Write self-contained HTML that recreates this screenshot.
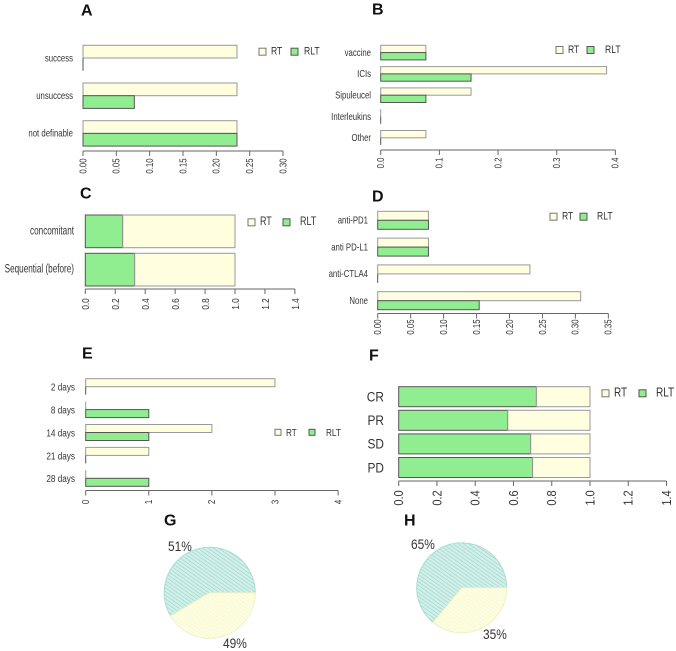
<!DOCTYPE html>
<html><head><meta charset="utf-8"><style>
html,body{margin:0;padding:0;background:#fff;}
svg{display:block;font-family:"Liberation Sans",Arial,sans-serif;}
.pl{font-weight:bold;font-size:16px;fill:#111;}
</style></head><body>
<svg id="fig" width="676" height="651" viewBox="0 0 676 651" xmlns="http://www.w3.org/2000/svg">
<defs>
<pattern id="hatchTeal" patternUnits="userSpaceOnUse" width="3" height="3" patternTransform="rotate(-55)">
<rect width="3" height="3" fill="#d3efe9"/><line x1="0" y1="0" x2="0" y2="3" stroke="#93d6c8" stroke-width="1.2"/></pattern>
<pattern id="hatchYellow" patternUnits="userSpaceOnUse" width="3" height="3" patternTransform="rotate(-55)">
<rect width="3" height="3" fill="#ffffe6"/><line x1="0" y1="0" x2="0" y2="3" stroke="#f4f4bf" stroke-width="1.2"/></pattern>
</defs>
</svg>
<script>
// ---- Panel A data ----
const aCats = ["success","unsuccess","not definable"];
const aRT = [0.231,0.231,0.231];
const aRLT = [0,0.077,0.231];
const aTicks = ["0.00","0.05","0.10","0.15","0.20","0.25","0.30"];
const aTickVals = [0,0.05,0.10,0.15,0.20,0.25,0.30];
// ---- Panel B data ----
const bCats = ["vaccine","ICIs","Sipuleucel","Interleukins","Other"];
const bRT = [0.077,0.385,0.154,0,0.077];
const bRLT = [0.077,0.154,0.077,0,0];
const bTicks = ["0.0","0.1","0.2","0.3","0.4"];
const bTickVals = [0,0.1,0.2,0.3,0.4];
// ---- Panel C data ----
const cCats = ["concomitant","Sequential (before)"];
const cRLT = [0.25,0.33];
const cRT = [0.75,0.67];
const cTicks = ["0.0","0.2","0.4","0.6","0.8","1.0","1.2","1.4"];
const cTickVals = [0,0.2,0.4,0.6,0.8,1.0,1.2,1.4];
// ---- Panel D data ----
const dCats = ["anti-PD1","anti PD-L1","anti-CTLA4","None"];
const dRT = [0.077,0.077,0.231,0.308];
const dRLT = [0.077,0.077,0,0.154];
const dTicks = ["0.00","0.05","0.10","0.15","0.20","0.25","0.30","0.35"];
const dTickVals = [0,0.05,0.10,0.15,0.20,0.25,0.30,0.35];
// ---- Panel E data ----
const eCats = ["2 days","8 days","14 days","21 days","28 days"];
const eRT = [3,0,2,1,0];
const eRLT = [0,1,1,0,1];
const eTicks = ["0","1","2","3","4"];
const eTickVals = [0,1,2,3,4];
// ---- Panel F data ----
const fCats = ["CR","PR","SD","PD"];
const fRLT = [0.72,0.57,0.69,0.70];
const fRT = [0.28,0.43,0.31,0.30];
const fTicks = ["0.0","0.2","0.4","0.6","0.8","1.0","1.2","1.4"];
const fTickVals = [0,0.2,0.4,0.6,0.8,1.0,1.2,1.4];
// ---- Pie data ----
const gShares = [0.585,0.415];
const gLabels = ["51%","49%"];
const hShares = [0.64,0.36];
const hLabels = ["65%","35%"];

const NS="http://www.w3.org/2000/svg";
const svg=document.getElementById('fig');
function mk(tag,attrs,parent){const e=document.createElementNS(NS,tag);for(const k in attrs)e.setAttribute(k,attrs[k]);(parent||svg).appendChild(e);return e;}
const RTF="#ffffe0",RTS="#999",RLF="#90ee90",RLS="#555";
const SX=0.78;

function bar(g,x,y,w,h,fill,stroke,name){
  if(w<=0.01){
    const l=mk('line',{x1:x,y1:y,x2:x,y2:y+h,stroke:stroke,'stroke-width':1},g);
    
    
    return;
  }
  const r=mk('rect',{x:x,y:y,width:w,height:h,fill:fill,stroke:stroke,'stroke-width':1},g);
  
  
}

function axis(g,P,ticks,vals){
  const ax=mk('g',{},g);
  
  
  const xs=v=>P.x0+v*P.sc;
  mk('line',{x1:xs(vals[0]),y1:P.axY,x2:xs(vals[vals.length-1]),y2:P.axY,stroke:'#666','stroke-width':1},ax);
  vals.forEach((v,i)=>{
    mk('line',{x1:xs(v),y1:P.axY,x2:xs(v),y2:P.axY+5,stroke:'#666','stroke-width':1},ax);
    const t=mk('text',{x:0,y:0,'font-size':P.tf,'text-anchor':'middle','dominant-baseline':'central',fill:'#333',transform:`translate(${xs(v)},${P.tlY}) rotate(-90) scale(${P.tsx||SX},1)`},ax);
    t.textContent=ticks[i];
    
    
  });
}

function ctext(g,x,y,txt,fs,anchor,name,sx){
  const t=mk('text',{x:0,y:0,'font-size':fs,'text-anchor':anchor,'dominant-baseline':'central',fill:'#333',transform:`translate(${x},${y}) scale(${sx||SX},1)`},g);
  t.textContent=txt;
  
  
  return t;
}

function legend(g,L){
  const lg=mk('g',{},g);
  
  
  const s=L.bs;
  mk('rect',{x:L.x1,y:L.y-s/2,width:s,height:s,fill:RTF,stroke:'#777'},lg);
  ctext(lg,L.x1+s+5,L.y,'RT',L.fs,'start','legend-rt',L.sx);
  mk('rect',{x:L.x2,y:L.y-s/2,width:s,height:s,fill:RLF,stroke:'#555'},lg);
  ctext(lg,L.x3,L.y,'RLT',L.fs,'start','legend-rlt',L.sx);
}

function plabel(g,P){
  const t=mk('text',{x:P.px,y:P.py,class:'pl','dominant-baseline':'central'},g);t.textContent=P.pl;
  
  
}

function grouped(name,P,cats,rt,rlt,ticks,vals){
  const g=mk('g',{});
  
  
  cats.forEach((c,i)=>{
    const top=P.top0+i*P.step;
    bar(g,P.x0,top,rt[i]*P.sc,P.bh,RTF,RTS,'bar-rt');
    bar(g,P.x0,top+P.bh,rlt[i]*P.sc,P.bh,RLF,RLS,'bar-rlt');
    ctext(g,P.lx,top+P.bh,c,P.lf,'end','category-label',P.lsx);
  });
  axis(g,P,ticks,vals);
  legend(g,P.L);
  plabel(g,P);
}
function stacked(name,P,cats,rlt,rt,ticks,vals){
  const g=mk('g',{});
  
  
  cats.forEach((c,i)=>{
    const top=P.top0+i*P.step;
    bar(g,P.x0,top,rlt[i]*P.sc,P.bh,RLF,RLS,'bar-rlt');
    bar(g,P.x0+rlt[i]*P.sc,top,rt[i]*P.sc,P.bh,RTF,RTS,'bar-rt');
    ctext(g,P.lx,top+P.bh/2,c,P.lf,'end','category-label',P.lsx);
  });
  axis(g,P,ticks,vals);
  legend(g,P.L);
  plabel(g,P);
}

grouped('panel-a',{x0:83,sc:666.7,axY:151,tlY:166,tf:10,top0:45.3,step:37.7,bh:12.7,lx:73,lf:10,px:81,py:11,pl:'A',
  L:{x1:259,x2:291,x3:304,y:51.7,bs:7,fs:11}},aCats,aRT,aRLT,aTicks,aTickVals);
grouped('panel-b',{x0:380.7,sc:586.7,axY:150,tlY:163,tf:10,top0:45.3,step:21.3,bh:7.3,lx:371,lf:10,px:372,py:10,pl:'B',
  L:{x1:556,x2:587,x3:605,y:50,bs:7,fs:11}},bCats,bRT,bRLT,bTicks,bTickVals);
stacked('panel-c',{x0:85.3,sc:149.7,axY:289,tlY:304,tf:10.5,top0:215,step:38.3,bh:32.7,lx:74,lf:12,lsx:0.68,px:80,py:194,pl:'C',
  L:{x1:248,x2:283,x3:300,y:222.3,bs:7,fs:11.5}},cCats,cRLT,cRT,cTicks,cTickVals);
grouped('panel-d',{x0:377.7,sc:659,axY:313.5,tlY:327,tf:10,top0:211.3,step:26.8,bh:9,lx:368,lf:10,px:372,py:197,pl:'D',
  L:{x1:550,x2:580,x3:597,y:216.7,bs:7,fs:11}},dCats,dRT,dRLT,dTicks,dTickVals);
grouped('panel-e',{x0:85.7,sc:63.1,axY:490.5,tlY:502,tf:10,top0:378.7,step:22.9,bh:8,lx:75,lf:10.5,px:82,py:354,pl:'E',
  L:{x1:275,x2:309,x3:326,y:432.3,bs:6,fs:10.5}},eCats,eRT,eRLT,eTicks,eTickVals);
stacked('panel-f',{x0:398.7,sc:191.3,axY:481,tlY:498,tf:13,tsx:0.85,top0:386.7,step:23.6,bh:20,lx:384,lf:14,lsx:0.85,px:369,py:356,pl:'F',
  L:{x1:602,x2:639,x3:656,y:393.3,bs:7,fs:12.5,sx:0.8}},fCats,fRLT,fRT,fTicks,fTickVals);

function pie(name,cx,cy,r,shares,labels,pl,plx,ply,lab){
  const g=mk('g',{});
  
  
  const fills=['url(#hatchTeal)','url(#hatchYellow)'];
  const strokes=['#a8ddd2','#f1f1c4'];
  let a0=0;
  shares.forEach((s,i)=>{
    const a1=a0+s*2*Math.PI;
    const x0=cx+r*Math.cos(a0),y0=cy-r*Math.sin(a0),x1=cx+r*Math.cos(a1),y1=cy-r*Math.sin(a1);
    const large=(a1-a0)>Math.PI?1:0;
    const p=mk('path',{d:`M${cx},${cy} L${x0},${y0} A${r},${r} 0 ${large} 0 ${x1},${y1} Z`,fill:fills[i],stroke:strokes[i],'stroke-width':1},g);
    
    
    a0=a1;
  });
  labels.forEach((l,i)=>{
    ctext(g,lab[i][0],lab[i][1],l,14,'start','pie-percent-label',0.85);
  });
  plabel(g,{px:plx,py:ply,pl:pl});
}
pie('pie-g',209.7,592.7,45.5,gShares,gLabels,'G',164,521,[[168,546],[223,643]]);
pie('pie-h',461.7,587.8,45,hShares,hLabels,'H',404,521,[[411,544],[483,634]]);
</script>
</body></html>
